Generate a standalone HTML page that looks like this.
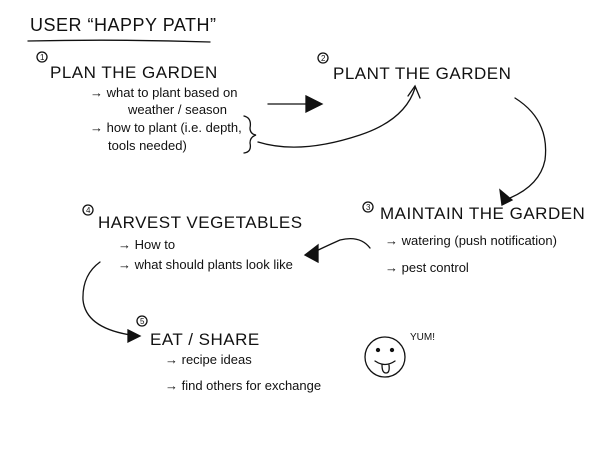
<!DOCTYPE html>
<html><head><meta charset="utf-8"><style>
html,body{margin:0;padding:0;background:#fff;width:600px;height:450px;overflow:hidden}
svg text{font-family:"Liberation Sans",sans-serif;fill:#111}
.h{font-size:17px;letter-spacing:0.5px}
.s{font-size:13px}
.n{font-size:8px}
</style></head><body>
<svg width="600" height="450" viewBox="0 0 600 450" xmlns="http://www.w3.org/2000/svg" fill="none" stroke="#111" stroke-width="1.3" stroke-linecap="round">
<text x="30" y="31" class="h" stroke="none" style="font-size:18px">USER “HAPPY PATH”</text>
<path d="M28 41 Q120 39 210 42"/>

<circle cx="42" cy="57" r="5"/><text x="40" y="60" class="n" stroke="none">1</text>
<text x="50" y="78" class="h" stroke="none">PLAN THE GARDEN</text>
<text x="90" y="97" class="s" stroke="none">→ what to plant based on</text>
<text x="128" y="114" class="s" stroke="none">weather / season</text>
<text x="90" y="132" class="s" stroke="none">→ how to plant (i.e. depth,</text>
<text x="108" y="150" class="s" stroke="none">tools needed)</text>
<path d="M244 116 Q252 118 250 128 Q250 134 256 135 Q250 137 250 143 Q252 152 244 153"/>
<path d="M268 104 L318 104"/>
<path d="M306 96 L322 104 L306 112 Z" fill="#111"/>
<path d="M258 142 Q300 155 360 135 Q405 120 415 88"/>
<path d="M408 96 L415 86 L420 98"/>

<circle cx="323" cy="58" r="5"/><text x="321" y="61" class="n" stroke="none">2</text>
<text x="333" y="79" class="h" stroke="none">PLANT THE GARDEN</text>
<path d="M515 98 Q550 120 545 160 Q540 185 510 198"/>
<path d="M500 190 L512 200 L502 205 Z" fill="#111"/>

<circle cx="368" cy="207" r="5"/><text x="366" y="210" class="n" stroke="none">3</text>
<text x="380" y="219" class="h" stroke="none">MAINTAIN THE GARDEN</text>
<text x="385" y="245" class="s" stroke="none">→ watering (push notification)</text>
<text x="385" y="272" class="s" stroke="none">→ pest control</text>
<path d="M370 248 Q360 235 340 240 Q322 248 308 255"/>
<path d="M318 245 L305 255 L318 262 Z" fill="#111"/>

<circle cx="88" cy="210" r="5"/><text x="86" y="213" class="n" stroke="none">4</text>
<text x="98" y="228" class="h" stroke="none">HARVEST VEGETABLES</text>
<text x="118" y="249" class="s" stroke="none">→ How to</text>
<text x="118" y="269" class="s" stroke="none">→ what should plants look like</text>
<path d="M100 262 Q82 275 83 300 Q86 330 138 336"/>
<path d="M128 330 L140 336 L128 342 Z" fill="#111"/>

<circle cx="142" cy="321" r="5"/><text x="140" y="324" class="n" stroke="none">5</text>
<text x="150" y="345" class="h" stroke="none">EAT / SHARE</text>
<text x="165" y="364" class="s" stroke="none">→ recipe ideas</text>
<text x="165" y="390" class="s" stroke="none">→ find others for exchange</text>

<circle cx="385" cy="357" r="20"/>
<circle cx="378" cy="350" r="1.5" fill="#111"/>
<circle cx="392" cy="350" r="1.5" fill="#111"/>
<path d="M375 361 Q385 368 395 361"/>
<path d="M382 365 Q382 373 386 373 Q390 373 389 365"/>
<text x="410" y="340" stroke="none" style="font-size:10px">YUM!</text>
</svg>
</body></html>
